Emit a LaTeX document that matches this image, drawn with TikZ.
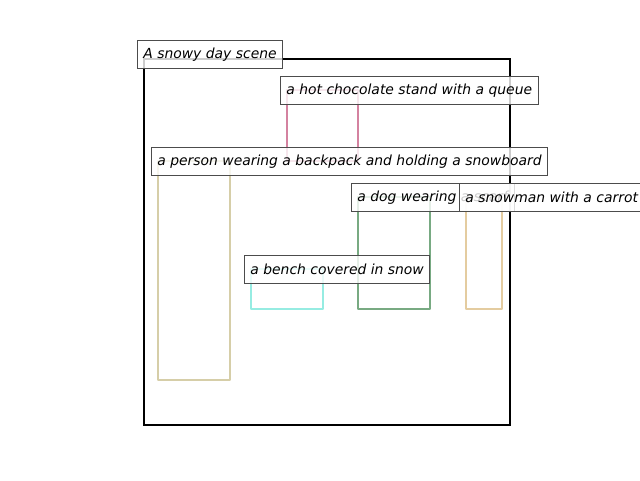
\documentclass[tikz,border=0pt]{standalone}
\usepackage{fontspec}
\setmainfont{DejaVu Sans}
\definecolor{standcol}{RGB}{212,130,160}
\definecolor{personcol}{RGB}{214,206,168}
\definecolor{benchcol}{RGB}{150,236,226}
\definecolor{dogcol}{RGB}{120,170,130}
\definecolor{snowmancol}{RGB}{228,204,160}
\begin{document}
\begin{tikzpicture}[x=1pt,y=-1pt,
  region/.style={line width=2.5pt,line join=round,line cap=round},
  tag/.style={draw=black!70,line width=0.8pt,fill=white,fill opacity=0.8,text opacity=1,
    anchor=north west,inner xsep=6pt,inner ysep=0pt,minimum height=28pt,
    font=\fontsize{13.9}{16}\selectfont\itshape},
  frame/.style={line width=2pt,draw=black}]
\useasboundingbox (0,0) rectangle (640,480);
% scene frame
\draw[frame] (144,59) rectangle (510,425);
% object regions
\draw[region,draw=standcol] (287,90) rectangle (358,161);
\draw[region,draw=personcol] (158,161) rectangle (230,380);
\draw[region,draw=benchcol] (251,269) rectangle (323,309);
\draw[region,draw=dogcol] (358,197) rectangle (430,309);
\draw[region,draw=snowmancol] (466,197) rectangle (502,309);
% captions
\node[tag] (scene) at (137,40) {A snowy day scene};
\node[tag] (stand) at (280,76) {a hot chocolate stand with a queue};
\node[tag] (person) at (151,147) {a person wearing a backpack and holding a snowboard};
\node[tag] (dog) at (351,183) {a dog wearing a scarf};
\node[tag] (snowman) at (459,183) {a snowman with a carrot};
\node[tag] (bench) at (244,255) {a bench covered in snow};
\end{tikzpicture}
\end{document}
